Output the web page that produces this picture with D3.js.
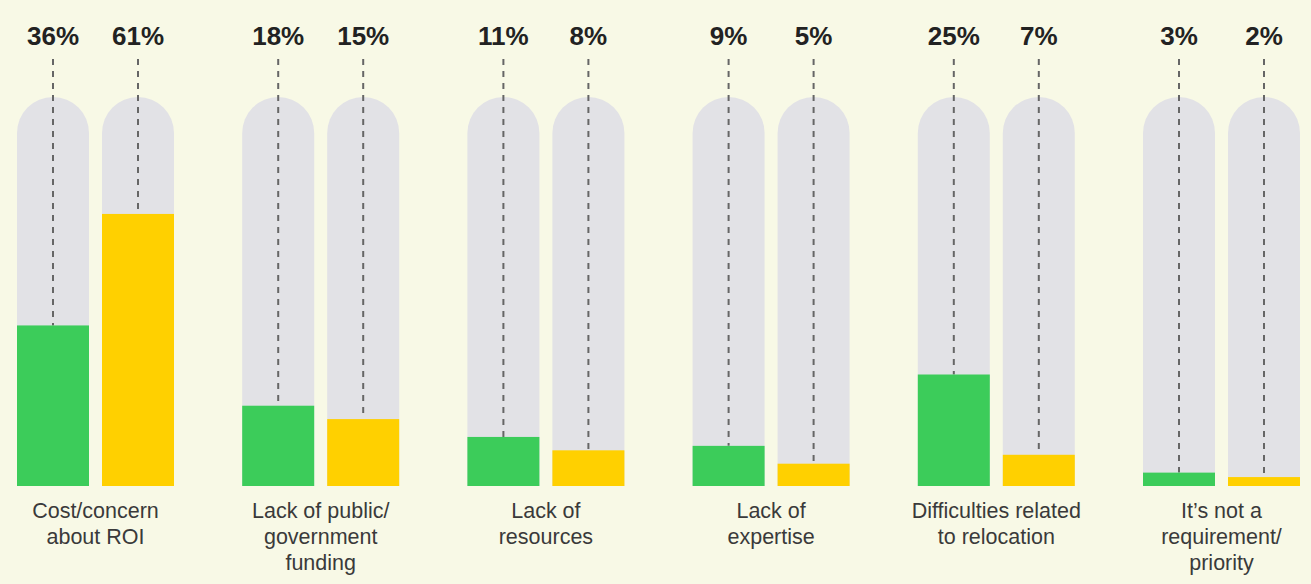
<!DOCTYPE html>
<html>
<head>
<meta charset="utf-8">
<script src="https://cdn.jsdelivr.net/npm/d3@7"></script>
<style>
  html, body { margin: 0; padding: 0; background: #f8f9e6; }
  svg { display: block; }
</style>
</head>
<body>
<div id="chart"></div>
<script>
// categories and values (percent)
let categories = [
  ["Cost/concern", "about ROI"],
  ["Lack of public/", "government", "funding"],
  ["Lack of", "resources"],
  ["Lack of", "expertise"],
  ["Difficulties related", "to relocation"],
  ["It\u2019s not a", "requirement/", "priority"]
];
let greenValues = [36, 18, 11, 9, 25, 3];
let yellowValues = [61, 15, 8, 5, 7, 2];
let seriesKeys = ["green", "yellow"];
let seriesColors = {green: "#3ccc5a", yellow: "#ffd000"};

function init() {
  let width = 1311, height = 584;

  let svg = d3.select("#chart")
    .append("svg")
      .attr("width", width)
      .attr("height", height);

  svg.append("rect")
    .attr("width", width).attr("height", height)
    .attr("fill", "#f8f9e6");

  let data = categories.map(function (c, i) {
    return {idx: i, label: c, green: greenValues[i], yellow: yellowValues[i]};
  });

  // group scale
  let x0 = d3.scaleBand()
    .domain(data.map(d => d.idx))
    .range([17, 1300])
    .paddingInner(1 - 157 / 225.2)
    .paddingOuter(0);

  // bars inside a group
  let x1 = d3.scaleBand()
    .domain(seriesKeys)
    .range([0, x0.bandwidth()])
    .paddingInner(13 / 85);

  let y = d3.scaleLinear()
    .domain([0, 100])
    .range([486, 40]);

  let trackTop = 97;
  let bw = x1.bandwidth();
  let r = bw / 2;

  let groups = svg.append("g")
    .selectAll("g")
    .data(data)
    .enter()
    .append("g")
      .attr("transform", d => "translate(" + x0(d.idx) + ",0)");

  let bars = groups.selectAll("g.bar")
    .data(d => seriesKeys.map(k => ({key: k, value: d[k]})))
    .enter()
    .append("g")
      .attr("class", "bar")
      .attr("transform", d => "translate(" + x1(d.key) + ",0)");

  // grey track with rounded top
  bars.append("path")
    .attr("d", "M0," + y(0) +
      " L0," + (trackTop + r) +
      " A" + r + "," + r + " 0 0 1 " + bw + "," + (trackTop + r) +
      " L" + bw + "," + y(0) + " Z")
    .attr("fill", "#e2e2e6");

  // dashed leader line
  bars.append("line")
    .attr("x1", r).attr("x2", r)
    .attr("y1", 59)
    .attr("y2", d => y(d.value))
    .attr("stroke", "#666")
    .attr("stroke-width", 2)
    .attr("stroke-dasharray", "6,6");

  // value bar
  bars.append("rect")
    .attr("x", 0)
    .attr("width", bw)
    .attr("y", d => y(d.value))
    .attr("height", d => y(0) - y(d.value))
    .attr("fill", d => seriesColors[d.key]);

  // value label
  bars.append("text")
    .attr("x", r)
    .attr("y", 45)
    .attr("text-anchor", "middle")
    .style("font-family", "'Liberation Sans', Arial, sans-serif")
    .style("font-weight", "bold")
    .style("font-size", "26px")
    .attr("fill", "#222")
    .text(d => d.value + "%");

  // category labels
  groups.append("text")
    .attr("text-anchor", "middle")
    .attr("x", x0.bandwidth() / 2)
    .style("font-family", "'Liberation Sans', Arial, sans-serif")
    .style("font-size", "21.5px")
    .attr("fill", "#3a3a3a")
    .selectAll("tspan")
    .data(d => d.label)
    .enter()
    .append("tspan")
      .attr("x", x0.bandwidth() / 2)
      .attr("y", (d, i) => 518 + i * 26)
      .text(d => d);
}
init();
</script>
</body>
</html>
